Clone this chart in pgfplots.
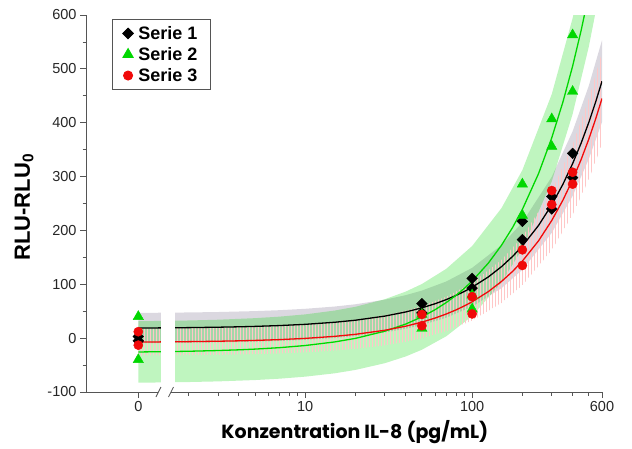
\documentclass[border=0pt]{standalone}
\usepackage{fontspec}
\setmainfont{Liberation Sans}
\newfontfamily\popfont{Poppins}
\usepackage{pgfplots}
\pgfplotsset{compat=1.18}
\usepgfplotslibrary{fillbetween}
\usetikzlibrary{patterns}

\definecolor{sgreen}{RGB}{0,215,0}
\definecolor{sred}{RGB}{240,10,10}
\definecolor{bandgrey}{RGB}{190,184,198}
\definecolor{axgrey}{RGB}{85,85,85}

\begin{document}
\begin{tikzpicture}
\begin{axis}[
    scale only axis, width=516pt, height=377pt,
    xmode=log, xmin=0.486, xmax=600,
    ymin=-100, ymax=600,
    axis lines=left,
    axis line style={-, axgrey, line width=0.8pt},
    tick align=outside,
    major tick length=6pt, minor tick length=3.5pt,
    every tick/.style={axgrey, line width=0.8pt},
    xtick={1,10,100,600}, xticklabels={0,10,100,600},
    minor xtick={2,3,4,5,6,7,8,9,20,30,40,50,60,70,80,90,200,300,400,500},
    ytick={-100,0,...,600}, minor ytick={-50,50,150,250,350,450,550},
    /pgf/number format/assume math mode=true,
    /pgf/number format/1000 sep={},
    tick label style={font=\fontsize{14.5}{16}\selectfont, color=black!85},
    xlabel={\popfont\bfseries Konzentration IL-8 (pg/mL)},
    xlabel style={font=\fontsize{19}{21}\selectfont, at={(axis description cs:0.521,-0.124)}, anchor=base},
    ylabel={\bfseries RLU-RLU\textsubscript{0}},
    ylabel style={font=\fontsize{22}{24}\selectfont, at={(axis description cs:-0.12,0.49)}, anchor=center},
    legend style={at={(0.05,0.99)}, anchor=north west, draw=axgrey, line width=0.8pt,
        font=\fontsize{18}{19}\selectfont\bfseries, row sep=2.5pt, column sep=3pt,
        inner xsep=10.5pt, inner ysep=5pt},
    legend cell align=left,
]
% confidence bands
\addplot[name path=u1, draw=none, forget plot] coordinates {(1,46.8) (2,47.7) (3,48.5) (5,50.2) (7,51.9) (10,54.5) (15,58.7) (20,62.9) (30,71.4) (40,79.8) (50,88.3) (70,105.2) (100,130.5) (150,172.8) (200,215) (300,299.5) (400,384) (500,468.5) (600,553)};
\addplot[name path=l1, draw=none, forget plot] coordinates {(1,-9.3) (2,-8.6) (3,-7.9) (5,-6.6) (7,-5.2) (10,-3.2) (15,0.3) (20,3.7) (30,10.6) (40,17.4) (50,24.3) (70,38.0) (100,58.5) (150,92.8) (200,127) (300,195.5) (400,264) (500,332.5) (600,401)};
\addplot[name path=u2, draw=none, forget plot] coordinates {(1,31.4) (2,32.8) (3,34.2) (5,37.1) (7,39.9) (10,44.1) (15,51.2) (20,58.2) (30,72.3) (40,86.4) (50,100.5) (70,128.7) (100,171) (150,241.5) (200,312) (300,453) (400,594) (450,664.5) (500,735)};
\addplot[name path=l2, draw=none, forget plot] coordinates {(1,-82.8) (2,-81.5) (3,-80.3) (5,-77.8) (7,-75.3) (10,-71.5) (15,-65.3) (20,-59) (30,-46.5) (40,-34) (50,-21.5) (70,3.5) (100,41) (150,103.5) (200,166) (300,291) (400,416) (500,541) (600,666)};
\addplot[name path=u3, draw=none, forget plot] coordinates {(1,17.9) (2,18.7) (3,19.6) (5,21.3) (7,23.0) (10,25.6) (15,29.8) (20,34.1) (30,42.7) (40,51.2) (50,59.8) (70,76.9) (100,102.5) (150,145.3) (200,188) (300,273.5) (400,359) (500,444.5) (600,530)};
\addplot[name path=l3, draw=none, forget plot] coordinates {(1,-32.3) (2,-31.7) (3,-31.0) (5,-29.7) (7,-28.4) (10,-26.5) (15,-23.2) (20,-19.9) (30,-13.4) (40,-6.8) (50,-0.25) (70,12.9) (100,32.5) (150,65.3) (200,98) (300,163.5) (400,229) (500,294.5) (600,360)};

\addplot[fill=bandgrey, fill opacity=0.55, forget plot] fill between[of=u1 and l1];
\addplot[fill=sgreen, fill opacity=0.25, forget plot] fill between[of=u2 and l2];
\addplot[pattern=vertical lines, pattern color=red!22, forget plot] fill between[of=u3 and l3];

% fitted curves
\addplot[black, line width=1.3pt, forget plot] coordinates {(1,18.77) (1.5,19.15) (2,19.53) (3,20.30) (4,21.06) (5,21.83) (7,23.36) (10,25.65) (15,29.48) (20,33.3) (30,40.95) (40,48.6) (50,56.25) (60,63.9) (70,71.55) (80,79.2) (90,86.85) (100,94.5) (125,113.6) (150,132.75) (175,151.9) (200,171) (250,209.25) (300,247.5) (350,285.75) (400,324) (450,362.25) (500,400.5) (550,438.75) (600,477)};
\addplot[sgreen, line width=1.3pt, forget plot] coordinates {(1,-25.67) (1.5,-25.0) (2,-24.34) (3,-23.01) (4,-21.68) (5,-20.35) (7,-17.69) (10,-13.7) (15,-7.05) (20,-0.4) (30,12.9) (40,26.2) (50,39.5) (60,52.8) (70,66.1) (80,79.4) (90,92.7) (100,106) (125,139.25) (150,172.5) (175,205.75) (200,239) (250,305.5) (300,372) (350,438.5) (400,505) (450,571.5) (500,638)};
\addplot[sred, line width=1.3pt, forget plot] coordinates {(1,-7.25) (1.5,-6.87) (2,-6.49) (3,-5.74) (4,-4.98) (5,-4.23) (7,-2.72) (10,-0.45) (15,3.33) (20,7.1) (30,14.65) (40,22.2) (50,29.75) (60,37.3) (70,44.85) (80,52.4) (90,59.95) (100,67.5) (125,86.4) (150,105.25) (175,124.1) (200,143) (250,180.75) (300,218.5) (350,256.25) (400,294) (450,331.75) (500,369.5) (550,407.25) (600,445)};

% axis break strip
\fill[white] (axis cs:1.37,-98) rectangle (axis cs:1.66,600);
\coordinate (brA) at (axis cs:1.32,-100);
\coordinate (brB) at (axis cs:1.57,-100);

% data
\addplot[only marks, mark=square*, mark size=3.8pt, mark options={rotate=45, fill=black}, black] coordinates {
(1,3) (1,-5) (50,64) (50,47) (100,111) (100,93) (200,217) (200,183) (300,263) (300,240) (400,343) (400,298)};
\addplot[only marks, mark=triangle*, mark size=6pt, mark options={fill=sgreen, draw=sgreen}, sgreen] coordinates {
(1,40) (1,-40) (50,18) (50,44) (100,54) (100,80) (200,286) (200,228) (300,407) (300,356) (400,563) (400,458)};
\addplot[only marks, mark=*, mark size=4.6pt, mark options={fill=sred, draw=sred}, sred] coordinates {
(1,12) (1,-13) (50,44) (50,23) (100,77) (100,45) (200,164) (200,135) (300,274) (300,248) (400,308) (400,286)};
\legend{Serie 1, Serie 2, Serie 3}
\end{axis}
\fill[white] ([yshift=-1.5pt]brA) rectangle ([yshift=1.5pt]brB);
\draw[axgrey, line width=0.8pt] ([xshift=-2.5pt,yshift=-5pt]brA) -- ([xshift=2.5pt,yshift=5pt]brA);
\draw[axgrey, line width=0.8pt] ([xshift=-2.5pt,yshift=-5pt]brB) -- ([xshift=2.5pt,yshift=5pt]brB);
\pgfresetboundingbox
\path (-86pt,-56pt) rectangle (546pt,392pt);
\end{tikzpicture}
\end{document}
